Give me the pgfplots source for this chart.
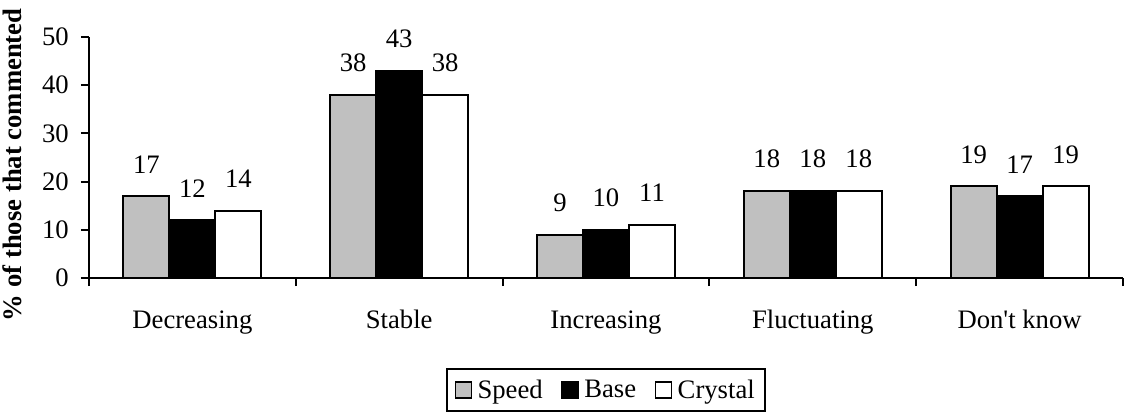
\documentclass[border=0pt]{standalone}
\usepackage{fontspec}
\setmainfont{Liberation Serif}
\usepackage{pgfplots}
\usepackage{pgfplotstable}
\pgfplotsset{compat=1.18}

\definecolor{speedgray}{HTML}{C0C0C0}

% Share of respondents (%) per trend category, for each variety
\pgfplotstableread{
x speed base crystal
0 17 12 14
1 38 43 38
2 9  10 11
3 18 18 18
4 19 17 19
}\trenddata

\begin{document}
\begin{tikzpicture}[font=\fontsize{20}{24}\selectfont]
\begin{axis}[
  scale only axis,
  width=775.5pt, height=180.75pt,
  xmin=-0.5, xmax=4.5, ymin=0, ymax=50,
  enlargelimits=false, clip=false,
  axis lines=left,
  axis line style={-, line width=1.5pt, black},
  tick style={line width=1.5pt, black},
  tick align=outside,
  major tick length=6pt, minor tick length=6pt,
  ytick={0,10,...,50},
  xtick={0,...,4},
  xticklabels={Decreasing,Stable,Increasing,Fluctuating,Don\textquotesingle t know},
  major x tick style={draw=none},
  minor xtick={-0.5,0.5,...,4.5},
  /pgf/number format/assume math mode=true,
  xticklabel style={anchor=base, inner sep=0pt, yshift=-31.5pt},
  yticklabel style={anchor=east, inner sep=0pt, xshift=-9pt},
  ybar=0pt, bar width=34.5pt,
  nodes near coords,
  every node near coord/.append style={anchor=south, inner sep=0pt, yshift=16.5pt, black},
  ylabel={\textbf{\% of those that commented}},
  y label style={at={(axis description cs:0,0.47)}, anchor=base, inner sep=0pt, yshift=50.25pt},
  legend style={at={(axis description cs:0.5,0)}, anchor=north, yshift=-67.5pt,
    legend columns=-1, draw=black, line width=1.5pt,
    inner xsep=6pt, inner ysep=6pt,
    /tikz/every even column/.append style={column sep=12pt},
    /tikz/every odd column/.append style={column sep=2pt}},
  legend image code/.code={\draw[#1, line width=1.2pt] (0pt,-6pt) rectangle (12pt,6pt);},
]
\coordinate (O) at (rel axis cs:0,0);
\addplot[fill=speedgray, draw=black, line width=1.5pt] table[x=x, y=speed] {\trenddata};
\addplot[fill=black, draw=black, line width=1.5pt] table[x=x, y=base] {\trenddata};
\addplot[fill=white, draw=black, line width=1.5pt] table[x=x, y=crystal] {\trenddata};
\legend{Speed,Base,Crystal}
\end{axis}
\pgfresetboundingbox
\path[use as bounding box] (O) ++(-66.75pt,-102.75pt) rectangle ++(846.75pt,311.25pt);
\end{tikzpicture}
\end{document}
